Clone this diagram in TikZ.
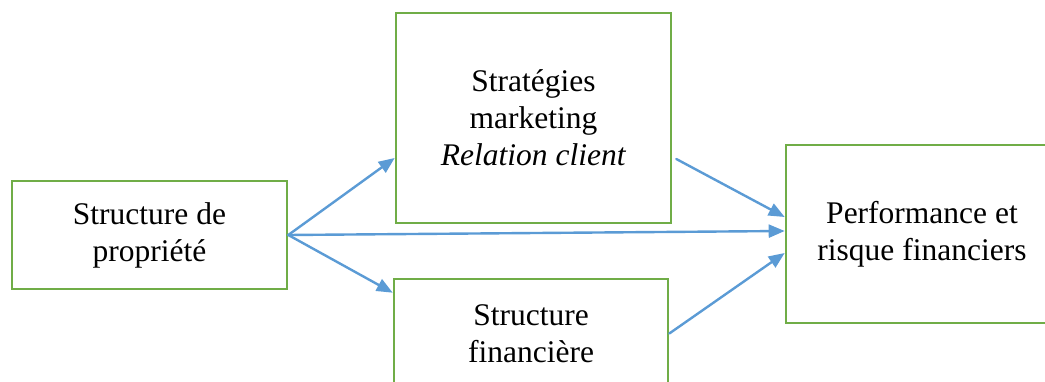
\documentclass[tikz,border=0pt]{standalone}
\usepackage{fontspec}
\setmainfont{Liberation Serif}
\usetikzlibrary{arrows.meta}
\definecolor{boxgreen}{RGB}{112,173,71}
\definecolor{arrowblue}{RGB}{91,155,213}
\begin{document}
\begin{tikzpicture}[x=1pt,y=-1pt,line cap=round]
	\tikzstyle{bloc}=[draw=boxgreen,line width=2.6pt,inner sep=0pt,align=center,font=\fontsize{31.5}{37}\selectfont];
	\tikzstyle{lien}=[draw=arrowblue,line width=2.4pt,-{Triangle[length=16pt,width=13pt]}];
	\useasboundingbox (0,0) rectangle (1045,382);
	\clip (0,0) rectangle (1045,382);

	\node[bloc,minimum width=275pt,minimum height=108pt] (own) at (149.5,235) {Structure de\\propriété};
	\node[bloc,minimum width=275pt,minimum height=210pt] (strat) at (533.5,118) {Stratégies\\marketing\\\textit{Relation client}};
	\node[bloc,minimum width=274pt,minimum height=109pt] (fin) at (531,333.5) {Structure\\financière};
	\node[bloc,minimum width=272pt,minimum height=178pt] (perf) at (922,234) {Performance et\\risque financiers};

	\coordinate (stratout) at ([xshift=4pt,yshift=-41pt]strat.east);

	\draw[lien] (own.east) -- ([yshift=-40pt]strat.west);
	\draw[lien] (own.east) -- ([yshift=-15pt]fin.north west);
	\draw[lien] (own.east) -- ([yshift=3pt]perf.west);
	\draw[lien] (stratout) -- ([yshift=17pt]perf.west);
	\draw[lien] (fin.east) -- ([yshift=-19pt]perf.west);
\end{tikzpicture}
\end{document}
